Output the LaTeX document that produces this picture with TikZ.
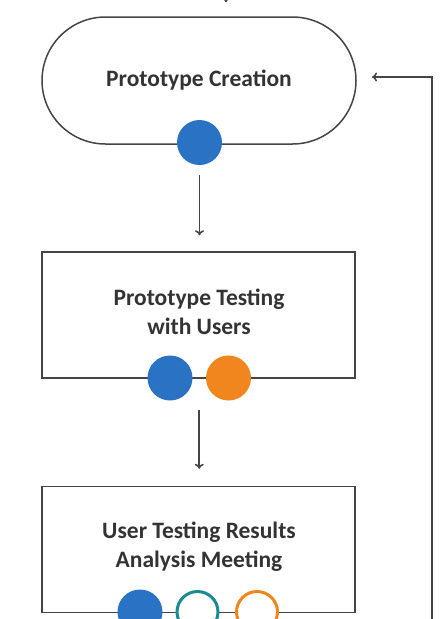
\documentclass[tikz,border=0pt]{standalone}
\usepackage{fontspec}
\setmainfont{Carlito}
\usetikzlibrary{arrows.meta,calc}
\definecolor{lineg}{HTML}{454545}
\definecolor{txtg}{HTML}{333333}
\definecolor{cblue}{HTML}{2A72C4}
\definecolor{corange}{HTML}{F2861E}
\definecolor{cteal}{HTML}{1A8C90}
\tikzset{
  x=1pt, y=-1pt,
  stepbox/.style={draw=lineg, line width=1.5pt, fill=white, minimum width=313pt, minimum height=126pt, inner sep=0pt},
  label text/.style={font=\bfseries\fontsize{23.5}{29}\selectfont, text=txtg, align=center},
  dotfill/.style={circle, minimum size=45pt, inner sep=0pt, fill=#1, draw=none},
  dotring/.style={circle, minimum size=41pt, inner sep=0pt, fill=white, draw=#1, line width=3pt},
  arr/.style={draw=lineg, line width=1.6pt, -{To[length=5pt,width=9pt]}},
}
\begin{document}
\begin{tikzpicture}
\useasboundingbox (0,0) rectangle (441,619);
\clip (0,0) rectangle (441,619);
% stages
\node[stepbox, minimum width=314pt, minimum height=127pt, rounded corners=63.5pt] (create) at (199,80.5) {};
\node[label text] (createtxt) at (199,80) {Prototype Creation};
\node[stepbox] (test) at (198.5,315) {};
\node[label text] (testtxt) at (199,311.5) {Prototype Testing\\with Users};
\node[stepbox] (analysis) at (198.5,549.5) {};
\node[label text] (analysistxt) at (199,546.5) {User Testing Results\\Analysis Meeting};
% dots
\node[dotfill=cblue] (d1) at (199.5,142.5) {};
\node[dotfill=cblue] (d2) at (170,378) {};
\node[dotfill=corange] (d3) at (228.5,378) {};
\node[dotfill=cblue] (d4) at (140,612) {};
\node[dotring=cteal] (d5) at (197.5,612) {};
\node[dotring=corange] (d6) at (257,612) {};
% connectors
\coordinate (intop) at (226,-20);
\draw[arr, shorten >=14pt] (intop) -- (intop |- create.north);
\draw[arr, shorten <=10pt, shorten >=16pt] (d1.south) -- (d1.south |- test.north);
\draw[arr, shorten <=10pt, shorten >=17pt] ($(d2)!0.5!(d3)+(0,22)$) coordinate (mid2) -- (mid2 |- analysis.north);
\coordinate (loopstart) at (432,640);
\coordinate (loopend) at (356,77);
\draw[arr, shorten >=16pt] (loopstart) |- (loopend);
\end{tikzpicture}
\end{document}
